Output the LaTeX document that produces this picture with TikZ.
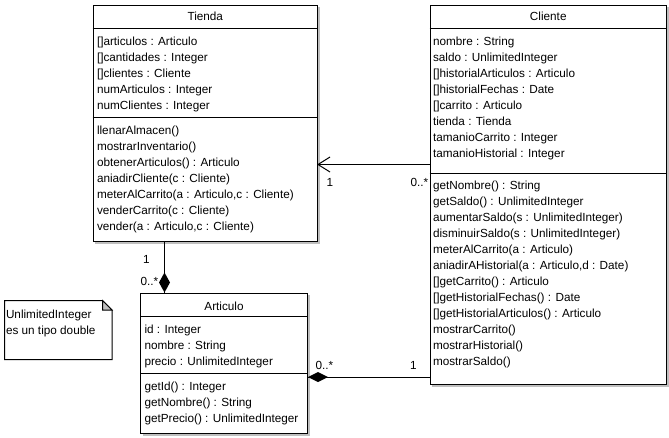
\documentclass[tikz,border=0pt]{standalone}
\usepackage{fontspec}
\setmainfont{Liberation Sans}
\usetikzlibrary{shadows}
\begin{document}
\begin{tikzpicture}[x=1pt,y=-1pt,line width=1pt]
\tikzstyle{every node}+=[inner sep=0pt,font=\fontsize{11.75}{16}\selectfont]
\tikzstyle{clase}=[draw=black,fill=white,anchor=north west,drop shadow={shadow xshift=2pt,shadow yshift=-2pt,fill=black!25,opacity=1}]
\tikzstyle{miembro}=[anchor=base west]
\useasboundingbox (0,0) rectangle (669,437);
% clases
\node [clase,minimum width=224.5pt,minimum height=236.5pt] (tienda) at (92.5,4.5) {};
\node [clase,minimum width=236.5pt,minimum height=379.5pt] (cliente) at (429.5,4.5) {};
\node [clase,minimum width=167pt,minimum height=140.5pt] (articulo) at (140,292.5) {};
\draw [black] (tienda.west |- 0,28.5) -- (tienda.east |- 0,28.5);
\draw [black] (tienda.west |- 0,117.5) -- (tienda.east |- 0,117.5);
\draw [black] (cliente.west |- 0,28.5) -- (cliente.east |- 0,28.5);
\draw [black] (cliente.west |- 0,173) -- (cliente.east |- 0,173);
\draw [black] (articulo.west |- 0,316) -- (articulo.east |- 0,316);
\draw [black] (articulo.west |- 0,373.5) -- (articulo.east |- 0,373.5);
\node [anchor=base] (tiendaT) at (tienda.north |- 0,20.5) {Tienda};
\node [anchor=base] (clienteT) at (cliente.north |- 0,20.5) {Cliente};
\node [anchor=base] (articuloT) at (articulo.north |- 0,310) {Articulo};
\foreach \m [count=\i] in {[]articulos : Articulo,[]cantidades : Integer,[]clientes : Cliente,numArticulos : Integer,numClientes : Integer}
  \node [miembro] (tiendaA\i) at (96.5,{45+16*(\i-1)}) {\m};
\foreach \m [count=\i] in {llenarAlmacen(),mostrarInventario(),obtenerArticulos() : Articulo,aniadirCliente(c : Cliente),{meterAlCarrito(a : Articulo,c : Cliente)},venderCarrito(c : Cliente),{vender(a : Articulo,c : Cliente)}}
  \node [miembro] (tiendaM\i) at (96.5,{134+16*(\i-1)}) {\m};
\foreach \m [count=\i] in {nombre : String,saldo : UnlimitedInteger,[]historialArticulos : Articulo,[]historialFechas : Date,[]carrito : Articulo,tienda : Tienda,tamanioCarrito : Integer,tamanioHistorial : Integer}
  \node [miembro] (clienteA\i) at (432.5,{45+16*(\i-1)}) {\m};
\foreach \m [count=\i] in {getNombre() : String,getSaldo() : UnlimitedInteger,aumentarSaldo(s : UnlimitedInteger),disminuirSaldo(s : UnlimitedInteger),meterAlCarrito(a : Articulo),{aniadirAHistorial(a : Articulo,d : Date)},[]getCarrito() : Articulo,[]getHistorialFechas() : Date,[]getHistorialArticulos() : Articulo,mostrarCarrito(),mostrarHistorial(),mostrarSaldo()}
  \node [miembro] (clienteM\i) at (432.5,{189.5+16*(\i-1)}) {\m};
\foreach \m [count=\i] in {id : Integer,nombre : String,precio : UnlimitedInteger}
  \node [miembro] (articuloA\i) at (144,{333.5+16*(\i-1)}) {\m};
\foreach \m [count=\i] in {getId() : Integer,getNombre() : String,getPrecio() : UnlimitedInteger}
  \node [miembro] (articuloM\i) at (144,{390+16*(\i-1)}) {\m};
% nota
\draw [black,fill=white] (4.5,300.5) -- (102.5,300.5) -- (112,310) -- (112,359.5) -- (4.5,359.5) -- cycle;
\filldraw [black,fill=black!25] (102.5,300.5) -- (102.5,310) -- (112,310) -- cycle;
\node [miembro] (nota1) at (5.5,318.5) {UnlimitedInteger};
\node [miembro] (nota2) at (5.5,334.5) {es un tipo double};
% asociaciones
\draw [black] (cliente.west |- 0,164.5) -- (tienda.east |- 0,164.5);
\draw [black] (tienda.east |- 0,164.5) ++(12,-7.5) -- ++(-12,7.5) -- ++(12,7.5);
\node [miembro] (m1) at (326,186.5) {1};
\node [miembro] (m2) at (410,186.5) {0..*};
\draw [black] (tienda.south -| 164.5,0) -- (articulo.north -| 164.5,0);
\fill [black] (articulo.north -| 164.5,0) -- ++(5.5,-10) -- ++(-5.5,-10) -- ++(-5.5,10) -- cycle;
\node [miembro] (m3) at (142.5,263) {1};
\node [miembro] (m4) at (140,285) {0..*};
\draw [black] (articulo.east |- 0,377) -- (cliente.west |- 0,377);
\fill [black] (articulo.east |- 0,377) -- ++(10,-5) -- ++(10,5) -- ++(-10,5) -- cycle;
\node [miembro] (m5) at (315,369) {0..*};
\node [miembro] (m6) at (409.5,369) {1};
\end{tikzpicture}
\end{document}
